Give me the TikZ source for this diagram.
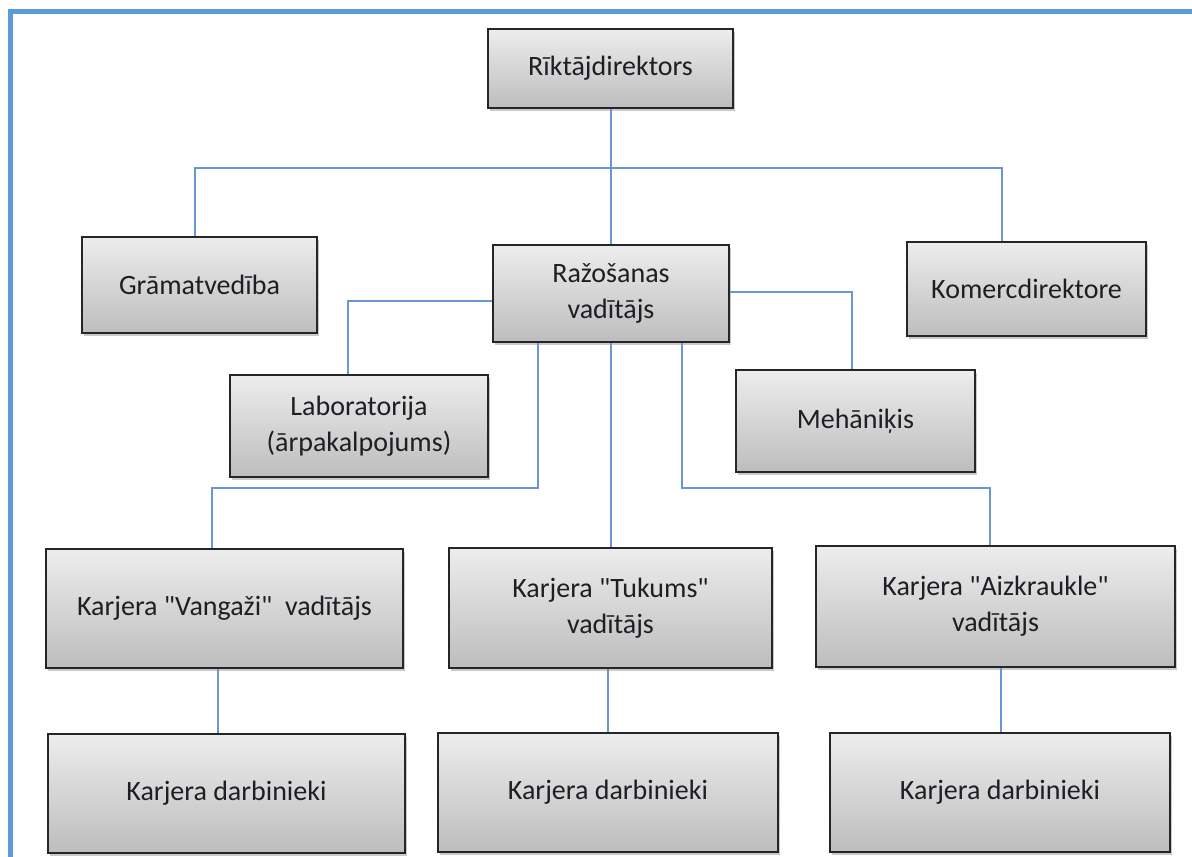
\documentclass[tikz,border=0pt]{standalone}
\usepackage{fontspec}
\setmainfont{Carlito}[Ligatures=TeXOff]
\usetikzlibrary{shadows}
\definecolor{frameblue}{HTML}{5B9BD5}
\definecolor{linkblue}{HTML}{6A96D2}
\definecolor{boxtop}{HTML}{EDEDED}
\definecolor{boxbottom}{HTML}{BDBDBD}
\definecolor{boxedge}{HTML}{262626}
\definecolor{inktext}{HTML}{1E1E24}
\tikzset{
  orgbox/.style={draw=boxedge, line width=2pt, top color=boxtop, bottom color=boxbottom,
    inner sep=0pt, align=center, text=inktext,
    font=\fontsize{28}{36}\selectfont,
    drop shadow={opacity=0.3, shadow xshift=2pt, shadow yshift=-3pt, fill=black!70}},
  link/.style={draw=linkblue, line width=1.6pt},
  frameline/.style={draw=frameblue, line width=5pt}
}
\begin{document}
\begin{tikzpicture}[x=1pt, y=-1pt]
\useasboundingbox (0,0) rectangle (1192,857);
% page frame (top and left edges)
\draw[frameline] (10,857) -- (10,11) -- (1192,11);

% boxes
\node[orgbox, minimum width=245, minimum height=79] (rik) at (610.5,68.5) {Rīktājdirektors};
\node[orgbox, minimum width=235, minimum height=96] (gram) at (199.5,285) {Grāmatvedība};
\node[orgbox, minimum width=236, minimum height=97] (raz) at (611,293.5) {Ražošanas\\vadītājs};
\node[orgbox, minimum width=239, minimum height=94] (kom) at (1026.5,289) {Komercdirektore};
\node[orgbox, minimum width=258, minimum height=102] (lab) at (359,426) {Laboratorija\\(ārpakalpojums)};
\node[orgbox, minimum width=239, minimum height=102] (meh) at (855.5,421) {Mehāniķis};
\node[orgbox, minimum width=357, minimum height=119] (van) at (224.5,608.5) {Karjera "Vangaži"\ \ vadītājs};
\node[orgbox, minimum width=323, minimum height=120] (tuk) at (610.5,608) {Karjera "Tukums"\\vadītājs};
\node[orgbox, minimum width=359, minimum height=121] (aiz) at (995.5,606.5) {Karjera "Aizkraukle"\\vadītājs};
\node[orgbox, minimum width=357, minimum height=119] (d1) at (226.5,793.5) {Karjera darbinieki};
\node[orgbox, minimum width=340, minimum height=119] (d2) at (608,792.5) {Karjera darbinieki};
\node[orgbox, minimum width=340, minimum height=119] (d3) at (1000,792.5) {Karjera darbinieki};

% junction points
\coordinate (top) at (611,168);
\coordinate (lowl) at (538,488);
\coordinate (lowr) at (682,488);

% connectors
\draw[link] (rik.south -| raz.north) -- (raz.north);
\draw[link] ([xshift=-4.5pt]gram.north) |- (top) -| ([xshift=-24.5pt]kom.north);
\draw[link] ([yshift=-7.5pt]raz.west) -| ([xshift=-11pt]lab.north);
\draw[link] ([yshift=1.5pt]raz.east) -| ([xshift=-3.5pt]meh.north);
\draw[link] ([xshift=-73pt]raz.south) -- (lowl) -| ([xshift=-12.5pt]van.north);
\draw[link] (raz.south) -- (raz.south |- tuk.north);
\draw[link] ([xshift=71pt]raz.south) -- (lowr) -| ([xshift=-5.5pt]aiz.north);
\draw[link] ([xshift=-6.5pt]van.south) -- ([xshift=-8.5pt]d1.north);
\draw[link] ([xshift=-2.5pt]tuk.south) -- (d2.north);
\draw[link] ([xshift=5.5pt]aiz.south) -- ([xshift=1pt]d3.north);
\end{tikzpicture}
\end{document}
